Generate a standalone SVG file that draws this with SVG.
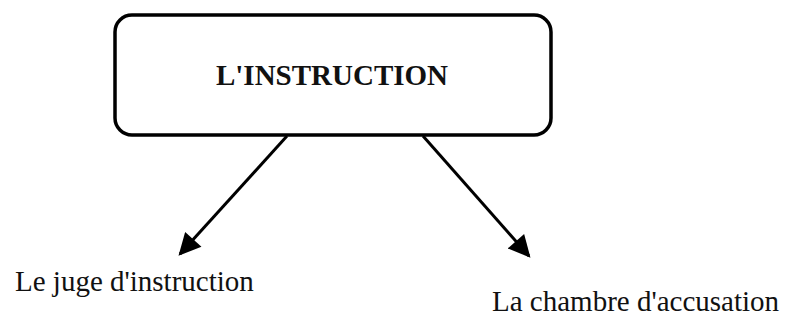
<svg xmlns="http://www.w3.org/2000/svg" width="791" height="325" viewBox="0 0 791 325">
<style>
.box{fill:#fff;stroke:#000;stroke-width:3.5}
.title{font-family:"Liberation Serif",serif;font-weight:bold;font-size:29px;fill:#111}
.lbl{font-family:"Liberation Serif",serif;font-size:29px;fill:#111}
.edge{stroke:#000;stroke-width:3;fill:none}
</style>
<defs>
<marker id="ah" viewBox="0 0 10 10" refX="9" refY="5" markerWidth="25" markerHeight="22" markerUnits="userSpaceOnUse" orient="auto">
<path d="M0,0 L10,5 L0,10 z" fill="#000"/>
</marker>
</defs>
<rect width="791" height="325" fill="#fff"/>
<g id="node-instruction">
<rect class="box" x="115" y="15" width="436" height="120" rx="17"/>
<text class="title" x="332" y="85" text-anchor="middle">L'INSTRUCTION</text>
</g>
<g id="node-juge">
<text class="lbl" x="15" y="291">Le juge d'instruction</text>
</g>
<g id="node-chambre">
<text class="lbl" x="492" y="311">La chambre d'accusation</text>
</g>
<g id="connectors">
<line class="edge" x1="287" y1="136" x2="180" y2="254" marker-end="url(#ah)"/>
<line class="edge" x1="423" y1="136" x2="529" y2="256" marker-end="url(#ah)"/>
</g>
</svg>
